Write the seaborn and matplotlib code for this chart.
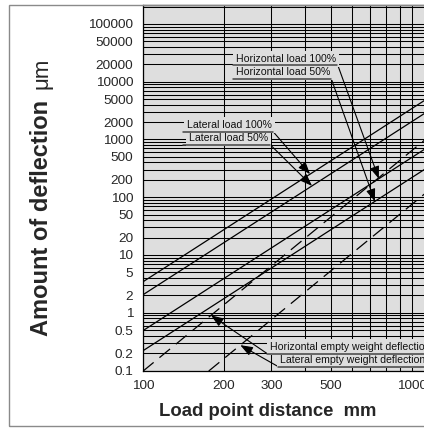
import numpy as np
import pandas as pd
import matplotlib
matplotlib.use("Agg")
import matplotlib.pyplot as plt
import seaborn as sns
from matplotlib.ticker import FixedLocator, FixedFormatter, LogLocator, NullFormatter
from matplotlib.patches import Rectangle
from matplotlib.lines import Line2D

# ---------------- data ----------------
distance_mm = [100, 1300]
lateral_100 = [3.44, 7560]
lateral_50 = [2.05, 4500]
horizontal_100 = [0.49, 1077]
horizontal_50 = [0.22, 483]
horizontal_empty = [0.0975, 1760]
lateral_empty = [0.0114, 206]

series_names = ["Lateral load 100%", "Lateral load 50%",
                "Horizontal load 100%", "Horizontal load 50%",
                "Horizontal empty weight deflection", "Lateral empty weight deflection"]
series_values = [lateral_100, lateral_50, horizontal_100, horizontal_50,
                 horizontal_empty, lateral_empty]
series_dashed = [False, False, False, False, True, True]
# distance at which each callout arrow points to its line
arrow_at_mm = [418, 425, 753, 728, 179, 230]

x_ticks = [100, 200, 300, 500, 1000]
x_tick_labels = ["100", "200", "300", "500", "1000"]
y_ticks = [0.1, 0.2, 0.5, 1, 2, 5, 10, 20, 50, 100, 200, 500, 1000, 2000,
           5000, 10000, 20000, 50000, 100000]
y_tick_labels = ["0.1", "0.2", "0.5", "1", "2", "5", "10", "20", "50", "100",
                 "200", "500", "1000", "2000", "5000", "10000", "20000",
                 "50000", "100000"]

x_label = "Load point distance  mm"
y_label_main = "Amount of deflection"
y_label_unit = "μm"

# ---------------- style ----------------
sns.set_style("white")
plt.rcParams["font.family"] = ["Liberation Sans", "DejaVu Sans"]

W, H = 424, 428
fig = plt.figure(figsize=(W / 100, H / 100), dpi=100)
fig.patch.set_facecolor("white")

def fx(px):
    return px / W

def fy(py):
    return 1 - py / H

BG = "#dedede"
ax_left, ax_top, ax_bottom, ax_right = 143, 5, 370.5, 442.6
ax = fig.add_axes([fx(ax_left), fy(ax_bottom), (ax_right - ax_left) / W, (ax_bottom - ax_top) / H])
ax.set_facecolor(BG)

rows = []
for name, vals, dashed in zip(series_names, series_values, series_dashed):
    for d, v in zip(distance_mm, vals):
        rows.append({"distance": d, "deflection": v, "series": name, "dashed": dashed})
df = pd.DataFrame(rows)

for name, dashed in zip(series_names, series_dashed):
    sub = df[df["series"] == name]
    sns.lineplot(data=sub, x="distance", y="deflection", ax=ax, color="black",
                 lw=0.9, legend=False, zorder=3)
    if dashed:
        ax.lines[-1].set_dashes((11, 6))

ax.set_xscale("log")
ax.set_yscale("log")
ax.set_xlim(100, 1300)
ax.set_ylim(0.1, 10 ** 5.329)

ax.xaxis.set_major_locator(FixedLocator(x_ticks))
ax.xaxis.set_major_formatter(FixedFormatter(x_tick_labels))
ax.yaxis.set_major_locator(FixedLocator(y_ticks))
ax.yaxis.set_major_formatter(FixedFormatter(y_tick_labels))
ax.xaxis.set_minor_locator(LogLocator(base=10, subs=np.arange(1, 10), numticks=100))
ax.yaxis.set_minor_locator(LogLocator(base=10, subs=np.arange(1, 10), numticks=100))
ax.xaxis.set_minor_formatter(NullFormatter())
ax.yaxis.set_minor_formatter(NullFormatter())
ax.tick_params(which="both", length=0)
ax.tick_params(axis="x", pad=7, labelsize=9.7)
ax.tick_params(axis="y", pad=7, labelsize=9.7)
ax.grid(which="both", color="black", lw=0.75)
ax.set_axisbelow(True)
for s in ax.spines.values():
    s.set_color("black")
    s.set_linewidth(0.9)

ax.set_xlabel(x_label, fontsize=13.3, fontweight="bold")
ax.xaxis.set_label_coords((268 - ax_left) / (ax_right - ax_left), (ax_bottom - 411) / (ax_bottom - ax_top))
ax.xaxis.label.set_va("center")
ax.set_ylabel("")

fig.text(fx(42), fy(218), y_label_main, rotation=90, ha="center", va="center",
         fontsize=17, fontweight="bold")
fig.text(fx(42), fy(73), y_label_unit, rotation=90, ha="center", va="center",
         fontsize=16)

# outer frame
fig.add_artist(Rectangle((fx(9), fy(426)), 2.0, (426 - 5) / H, transform=fig.transFigure,
                         fill=False, ec="#8a8a8a", lw=1.0))

# ---------------- callouts ----------------
# (text left px, text centre y px, underline y px, underline x0, underline x1, leader start x, leader start y)
callouts = [
    (187, 125, 131.5, 183, 273, 273, 131.5),
    (189, 138, 144.5, 183, 270, 270, 144.5),
    (236, 59, 65.0, 233, 337, 337, 63),
    (236, 72, 79.0, 233, 331, 331, 78),
    (270, 347, 353.5, 267, 440, 267, 353.5),
    (280, 360, 366.5, 278, 440, 278, 366.5),
]

for name, vals, at_mm, c in zip(series_names, series_values, arrow_at_mm, callouts):
    tx, ty, uy, ux0, ux1, lx, ly = c
    # target point on the line (log-log interpolation of the series)
    target_y = 10 ** np.interp(np.log10(at_mm), np.log10(distance_mm), np.log10(vals))
    fig.text(fx(tx), fy(ty), name, ha="left", va="center", fontsize=7.6, color="#111111",
             bbox=dict(boxstyle="square,pad=0.25", fc=BG, ec="none"), zorder=5)
    fig.add_artist(Line2D([fx(ux0), fx(ux1)], [fy(uy), fy(uy)], transform=fig.transFigure,
                          color="#444444", lw=1.1, zorder=6))
    ax.annotate("", xy=(at_mm, target_y), xycoords="data",
                xytext=(fx(lx), fy(ly)), textcoords="figure fraction",
                arrowprops=dict(arrowstyle="-|>,head_length=0.75,head_width=0.28",
                                color="black", lw=0.8, shrinkA=0, shrinkB=0,
                                mutation_scale=10),
                annotation_clip=False, zorder=7)

fig.savefig("out.png", dpi=100)
